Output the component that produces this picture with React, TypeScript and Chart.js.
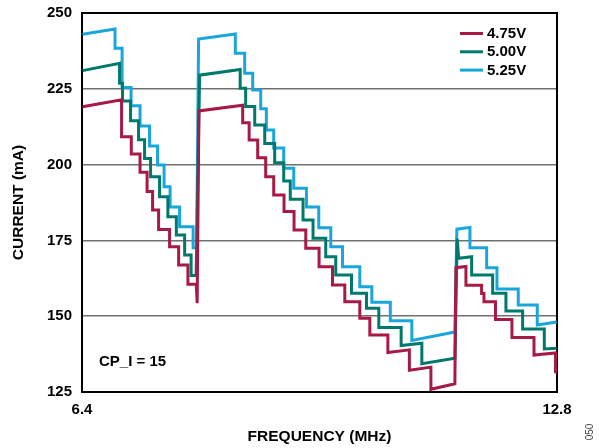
import React, { useEffect, useRef } from 'react';
import { Chart, registerables } from 'chart.js';

Chart.register(...registerables);

// ---- data ----
const seriesLabels = ['4.75V', '5.00V', '5.25V'];
const seriesColors = ['#A61A45', '#00796C', '#1AA6DB'];

const freq475 = [
  6.407, 6.933, 6.933, 7.064, 7.064, 7.182, 7.182, 7.277, 7.277, 7.351, 7.351, 7.432, 7.432, 7.580, 7.580, 7.702, 7.702, 7.827, 7.827, 7.940, 7.952,
  7.975, 8.565, 8.565, 8.652, 8.652, 8.767, 8.767, 8.875, 8.875, 8.983, 8.983, 9.122, 9.122, 9.257, 9.257, 9.415, 9.415, 9.594, 9.594, 9.775, 9.775, 9.941, 9.941, 10.143, 10.143, 10.278, 10.278, 10.521, 10.521, 10.811, 10.811, 11.101, 11.101, 11.424,
  11.438, 11.573, 11.573, 11.784, 11.784, 11.816, 11.816, 11.971, 11.971, 12.193, 12.193, 12.490, 12.490, 12.780, 12.780,
];
const cur475 = [
  219.1, 221.4, 209.2, 209.2, 203.5, 203.5, 197.5, 197.5, 191.1, 191.1, 185.0, 185.0, 178.6, 178.6, 172.9, 172.9, 166.9, 166.9, 160.5, 160.5, 154.3,
  217.7, 219.6, 213.8, 213.8, 208.1, 208.1, 202.3, 202.3, 196.0, 196.0, 190.0, 190.0, 184.5, 184.5, 178.4, 178.4, 172.4, 172.4, 166.3, 166.3, 160.3, 160.3, 154.8, 154.8, 149.3, 149.3, 143.8, 143.8, 138.0, 138.9, 132.2, 133.2, 125.9, 127.7,
  166.0, 166.4, 160.2, 160.2, 157.5, 157.5, 154.8, 154.8, 148.9, 148.9, 143.0, 143.0, 137.2, 137.9, 131.2,
];

const freq500 = [
  6.407, 6.906, 6.906, 6.946, 6.946, 7.054, 7.054, 7.162, 7.162, 7.243, 7.243, 7.324, 7.324, 7.445, 7.445, 7.557, 7.557, 7.671, 7.671, 7.783, 7.783, 7.870, 7.870, 7.938,
  7.985, 8.531, 8.531, 8.605, 8.605, 8.727, 8.727, 8.862, 8.862, 8.996, 8.996, 9.118, 9.118, 9.206, 9.206, 9.378, 9.378, 9.513, 9.513, 9.684, 9.684, 9.819, 9.819, 10.031, 10.031, 10.233, 10.233, 10.399, 10.399, 10.700, 10.700, 10.979, 10.979, 11.424,
  11.455, 11.476, 11.650, 11.650, 11.933, 11.933, 12.112, 12.112, 12.337, 12.337, 12.629, 12.629, 12.796,
];
const cur500 = [
  231.0, 233.4, 226.8, 226.8, 221.0, 221.0, 214.5, 214.5, 208.2, 208.2, 202.0, 202.0, 196.0, 196.0, 189.4, 189.4, 182.8, 182.8, 176.8, 176.8, 170.2, 170.2, 163.4, 163.4,
  229.5, 231.4, 225.2, 225.2, 219.2, 219.2, 213.1, 213.1, 207.0, 207.0, 200.6, 200.6, 194.6, 194.6, 188.6, 188.6, 181.7, 181.7, 175.7, 175.7, 169.6, 169.6, 163.6, 163.6, 157.6, 157.6, 152.6, 152.6, 146.3, 146.3, 140.3, 141.1, 134.3, 136.1,
  175.5, 169.1, 169.6, 163.6, 163.6, 157.6, 157.6, 151.7, 151.7, 145.8, 145.8, 139.2, 139.4,
];

const freq525 = [
  6.407, 6.845, 6.845, 6.940, 6.940, 7.061, 7.061, 7.182, 7.182, 7.310, 7.310, 7.418, 7.418, 7.506, 7.506, 7.587, 7.587, 7.715, 7.715, 7.897, 7.897, 7.944,
  7.971, 8.466, 8.466, 8.592, 8.592, 8.700, 8.700, 8.808, 8.808, 8.884, 8.884, 8.983, 8.983, 9.118, 9.118, 9.253, 9.253, 9.424, 9.424, 9.590, 9.590, 9.752, 9.752, 9.910, 9.910, 10.143, 10.143, 10.305, 10.305, 10.554, 10.554, 10.844, 10.844, 11.424,
  11.451, 11.627, 11.627, 11.852, 11.852, 11.991, 11.991, 12.278, 12.278, 12.534, 12.534, 12.796,
];
const cur525 = [
  243.0, 244.7, 238.4, 238.4, 225.4, 225.4, 219.4, 219.4, 212.7, 212.7, 206.1, 206.1, 199.9, 199.9, 192.7, 192.7, 186.0, 186.0, 179.5, 179.5, 172.6, 172.6,
  241.4, 243.1, 236.7, 236.7, 230.1, 230.1, 224.6, 224.6, 218.4, 218.4, 211.4, 211.4, 205.5, 205.5, 198.8, 198.8, 192.2, 192.2, 186.0, 186.0, 179.2, 179.2, 172.9, 172.9, 166.3, 166.3, 159.7, 159.7, 154.6, 154.6, 148.5, 148.5, 142.0, 144.8,
  178.7, 179.3, 172.6, 172.6, 166.0, 166.0, 159.0, 159.0, 153.7, 153.7, 147.1, 148.1,
];

const xTickValues = [6.4, 12.8];
const yTickValues = [125, 150, 175, 200, 225, 250];
const xTitle = 'FREQUENCY (MHz)';
const yTitle = 'CURRENT (mA)';
const noteText = 'CP_I = 15';
const figureId = '050';

const FONT = '"Liberation Sans", Arial, Helvetica, sans-serif';

function toPoints(xs: number[], ys: number[]) {
  const n = Math.min(xs.length, ys.length);
  const out: { x: number; y: number }[] = [];
  for (let i = 0; i < n; i++) out.push({ x: xs[i], y: ys[i] });
  return out;
}

export default function App() {
  const ref = useRef<HTMLCanvasElement>(null);

  useEffect(() => {
    const canvas = ref.current;
    if (!canvas) return;

    const framePlugin = {
      id: 'frame',
      beforeDatasetsDraw(chart: any) {
        const { ctx, chartArea: a } = chart;
        ctx.save();
        ctx.strokeStyle = '#000';
        ctx.lineWidth = 2;
        ctx.strokeRect(a.left, a.top, a.right - a.left, a.bottom - a.top);
        ctx.restore();
      },
    };

    const extrasPlugin = {
      id: 'extras',
      afterDraw(chart: any) {
        const { ctx, chartArea: a } = chart;
        ctx.save();
        // legend
        ctx.font = `bold 15px ${FONT}`;
        ctx.textBaseline = 'middle';
        ctx.textAlign = 'left';
        chart.data.datasets.forEach((ds: any, i: number) => {
          const y = 33.5 + i * 18.3;
          ctx.strokeStyle = ds.borderColor;
          ctx.lineWidth = 3;
          ctx.beginPath();
          ctx.moveTo(460, y);
          ctx.lineTo(483, y);
          ctx.stroke();
          ctx.fillStyle = '#000';
          ctx.fillText(ds.label, 487, y + 0.5);
        });
        // note
        ctx.fillStyle = '#000';
        ctx.fillText(noteText, a.left + 17, 362);
        // figure id
        ctx.font = `10px ${FONT}`;
        ctx.fillStyle = '#444';
        ctx.translate(590, 432);
        ctx.rotate(-Math.PI / 2);
        ctx.textAlign = 'center';
        ctx.fillText(figureId, 0, 0);
        ctx.restore();
      },
    };

    const tickFont = { family: FONT, size: 15, weight: 'bold' as const };
    const titleFont = { family: FONT, size: 15.5, weight: 'bold' as const };

    const chart = new Chart(canvas, {
      type: 'line',
      data: {
        datasets: [
          { label: seriesLabels[0], data: toPoints(freq475, cur475), borderColor: seriesColors[0], backgroundColor: seriesColors[0] },
          { label: seriesLabels[1], data: toPoints(freq500, cur500), borderColor: seriesColors[1], backgroundColor: seriesColors[1] },
          { label: seriesLabels[2], data: toPoints(freq525, cur525), borderColor: seriesColors[2], backgroundColor: seriesColors[2] },
        ],
      },
      options: {
        animation: false,
        responsive: false,
        maintainAspectRatio: false,
        parsing: false as any,
        layout: { padding: { left: 0, right: 42, top: 13, bottom: 0 } },
        plugins: { legend: { display: false }, tooltip: { enabled: false } },
        elements: {
          point: { radius: 0 },
          line: { tension: 0, borderWidth: 3, borderJoinStyle: 'miter', borderCapStyle: 'butt', fill: false },
        },
        scales: {
          x: {
            type: 'linear',
            min: 6.4,
            max: 12.8,
            grid: { display: false, drawTicks: false },
            border: { display: false },
            afterBuildTicks: (s: any) => {
              s.ticks = xTickValues.map((v) => ({ value: v }));
            },
            afterFit: (s: any) => {
              s.height = 56;
              s.paddingLeft = 0;
              s.paddingRight = 0;
            },
            ticks: {
              font: tickFont,
              color: '#000',
              padding: 9,
              maxRotation: 0,
              autoSkip: false,
              callback: (v: any) => Number(v).toFixed(1),
            },
            title: { display: true, text: xTitle, font: titleFont, color: '#000', padding: { top: 0, bottom: 2 } },
          },
          y: {
            type: 'linear',
            min: 125,
            max: 250,
            afterBuildTicks: (s: any) => {
              s.ticks = yTickValues.map((v) => ({ value: v }));
            },
            afterFit: (s: any) => {
              s.width = 82;
              s.paddingTop = 0;
              s.paddingBottom = 0;
            },
            grid: { color: '#707070', lineWidth: 1.5, drawTicks: false },
            border: { display: false },
            ticks: { font: tickFont, color: '#000', padding: 10, callback: (v: any) => String(v) },
            title: { display: true, text: yTitle, font: titleFont, color: '#000', padding: { top: 9, bottom: 0 } },
          },
        },
      } as any,
      plugins: [framePlugin, extrasPlugin],
    });

    return () => chart.destroy();
  }, []);

  return (
    <div style={{ position: 'absolute', left: 0, top: 0, width: 599, height: 448, background: '#fff' }}>
      <canvas ref={ref} width={599} height={448} style={{ display: 'block', width: 599, height: 448 }} />
    </div>
  );
}
